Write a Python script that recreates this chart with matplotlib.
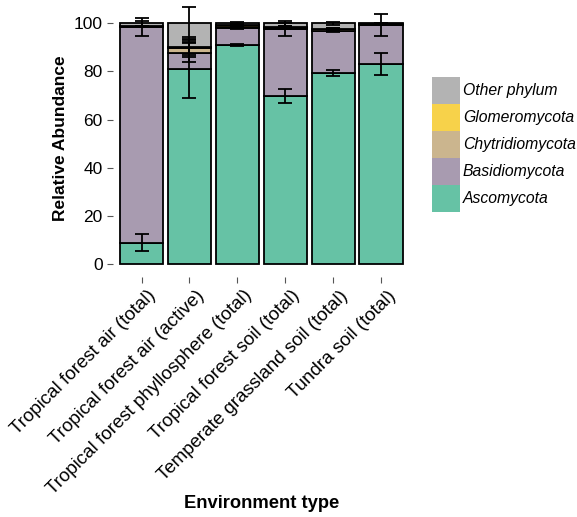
import matplotlib
matplotlib.use("Agg")
import matplotlib.pyplot as plt
import matplotlib.transforms as mtransforms
from matplotlib.patches import Patch
import numpy as np

plt.rcParams['font.family'] = ['Liberation Sans', 'DejaVu Sans']

environments = ["Tropical forest air (total)", "Tropical forest air (active)",
                "Tropical forest phyllosphere (total)", "Tropical forest soil (total)",
                "Temperate grassland soil (total)", "Tundra soil (total)"]
phyla = ["Ascomycota", "Basidiomycota", "Chytridiomycota", "Glomeromycota", "Other phylum"]
colors = ["#66C2A5", "#A89BB0", "#CBB58E", "#F7D24A", "#B3B3B3"]

ascomycota      = [8.9, 81.0, 91.0, 69.7, 79.2, 83.1]
basidiomycota   = [89.6, 6.8, 7.2, 27.9, 17.8, 16.2]
chytridiomycota = [0.2, 1.8, 0.3, 0.6, 0.5, 0.2]
glomeromycota   = [0.1, 0.5, 0.8, 0.2, 0.2, 0.1]
other_phylum    = [1.2, 9.9, 0.7, 1.6, 2.3, 0.4]

sd_ascomycota      = [3.5, 12.0, 0.4, 3.0, 1.3, 4.4]
sd_basidiomycota   = [3.6, 3.9, 0.6, 2.7, 0.7, 4.4]
sd_chytridiomycota = [0.3, 2.6, 0.5, 0.5, 0.6, 0.2]
sd_glomeromycota   = [0.2, 4.3, 0.5, 0.3, 0.3, 0.1]
sd_other_phylum    = [1.0, 6.6, 0.4, 1.0, 0.7, 0.3]

values = [ascomycota, basidiomycota, chytridiomycota, glomeromycota, other_phylum]
sds = [sd_ascomycota, sd_basidiomycota, sd_chytridiomycota, sd_glomeromycota, sd_other_phylum]

fig = plt.figure(figsize=(5.77, 5.17), dpi=100)
ax = fig.add_axes([112.8 / 577, 240 / 517, (409.7 - 112.8) / 577, 277 / 517])

x = np.arange(len(environments))
bottom = np.zeros(len(environments))
tops = []
for vals, col in zip(values, colors):
    v = np.array(vals)
    ax.bar(x, v, bottom=bottom, width=0.9, color=col, edgecolor="black",
           linewidth=1.3, zorder=2)
    bottom = bottom + v
    tops.append(bottom.copy())

for top, sd in zip(tops, sds):
    ax.errorbar(x, top, yerr=sd, fmt="none", ecolor="black", elinewidth=1.3,
                capsize=5, capthick=1.3, zorder=3)

ax.set_xlim(-0.6, 5.6)
ax.set_ylim(-5.4, 264 / 2.407)
ax.set_yticks([0, 20, 40, 60, 80, 100])
ax.set_xticks(x)
ax.set_xticklabels(environments, rotation=45, ha="right", va="top",
                   rotation_mode="anchor", fontsize=13.5)
ax.tick_params(axis="both", length=4.3, width=0.8, color="#555555",
               labelcolor="black", pad=3)
ax.tick_params(axis="y", labelsize=12.5)
ax.tick_params(axis="x", labelsize=13.5)
offset = mtransforms.ScaledTranslation(6 / 100, 0, fig.dpi_scale_trans)
for lab in ax.get_xticklabels():
    lab.set_transform(lab.get_transform() + offset)
for s in ax.spines.values():
    s.set_visible(False)
ax.set_facecolor("white")

ax.set_ylabel("Relative Abundance", fontsize=12.5, fontweight="bold", labelpad=4)
fig.text(262 / 577, 1 - 503 / 517, "Environment type", fontsize=13.2,
         fontweight="bold", ha="center", va="center")

handles = [Patch(facecolor=c, edgecolor="none") for c in colors][::-1]
labels = phyla[::-1]
leg = fig.legend(handles, labels, loc="upper left",
                 bbox_to_anchor=(432 / 577, 1 - 77 / 517),
                 frameon=False, prop={"style": "italic", "size": 11.3},
                 handlelength=1.77, handleheight=2.26, labelspacing=0,
                 handletextpad=0.2, borderpad=0, borderaxespad=0)

fig.savefig("out.png", dpi=100)
